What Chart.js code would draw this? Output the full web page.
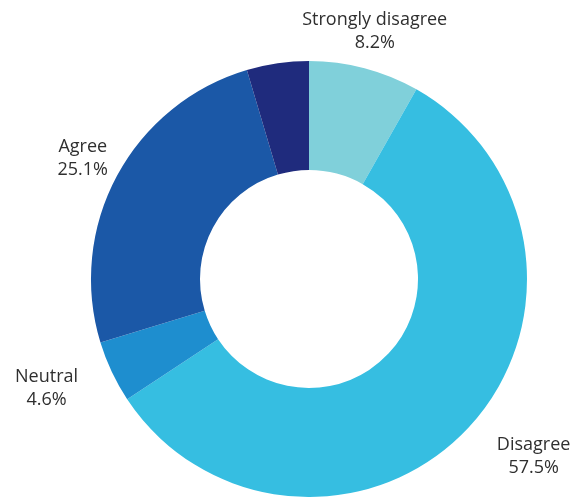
<!DOCTYPE html>
<html>
<head>
<meta charset="utf-8">
<script src="https://cdn.jsdelivr.net/npm/chart.js@4/dist/chart.umd.min.js"></script>
<style>
    html, body { margin: 0; padding: 0; background: #fff; overflow: hidden; }
    #wrap { width: 573px; height: 497px; position: relative; }
</style>
</head>
<body>
<div id="wrap"><canvas id="myChart"></canvas></div>
<script>
(function () {
    "use strict";

    // Survey answers, clockwise from the top
    const categories = ['Strongly disagree', 'Disagree', 'Neutral', 'Agree', 'Strongly agree'];
    const shares = [8.2, 57.5, 4.6, 25.1, 4.6];
    const showLabel = [true, true, true, true, false];

    const sliceColors = ['#80d0da', '#36bee1', '#1e8ecf', '#1b58a7', '#1f2b7d'];

    // nudges for the outside labels, in px
    const labelNudge = [[0, 2], [36, 1], [-29, 0], [1, 2], [0, 0]];

    const outsideLabels = {
        id: 'outsideLabels',
        afterDatasetsDraw(chart) {
            const ctx = chart.ctx;
            const meta = chart.getDatasetMeta(0);
            ctx.save();
            ctx.font = '18px "Open Sans", "Noto Sans", sans-serif';
            ctx.fillStyle = '#2f2f2f';
            ctx.textAlign = 'center';
            ctx.textBaseline = 'middle';
            meta.data.forEach(function (arc, i) {
                if (!showLabel[i]) return;
                const mid = (arc.startAngle + arc.endAngle) / 2;
                const r = arc.outerRadius + 40;
                const x = arc.x + Math.cos(mid) * r + labelNudge[i][0];
                const y = arc.y + Math.sin(mid) * r + labelNudge[i][1];
                ctx.fillText(categories[i], x, y - 11.5);
                ctx.fillText(shares[i].toFixed(1) + '%', x, y + 11.5);
            });
            ctx.restore();
        }
    };

    function initChart() {
        const ctx = document.getElementById('myChart').getContext('2d');
        new Chart(ctx, {
            type: 'doughnut',
            data: {
                labels: categories,
                datasets: [{
                    data: shares,
                    backgroundColor: sliceColors,
                    borderWidth: 0,
                    hoverOffset: 0
                }]
            },
            options: {
                responsive: true,
                maintainAspectRatio: false,
                animation: false,
                cutout: '50%',
                layout: {
                    padding: { left: 90, right: 45, top: 61, bottom: 0 }
                },
                plugins: {
                    legend: { display: false },
                    tooltip: { enabled: false }
                }
            },
            plugins: [outsideLabels]
        });
    }

    document.addEventListener('DOMContentLoaded', initChart);
})();
</script>
</body>
</html>
